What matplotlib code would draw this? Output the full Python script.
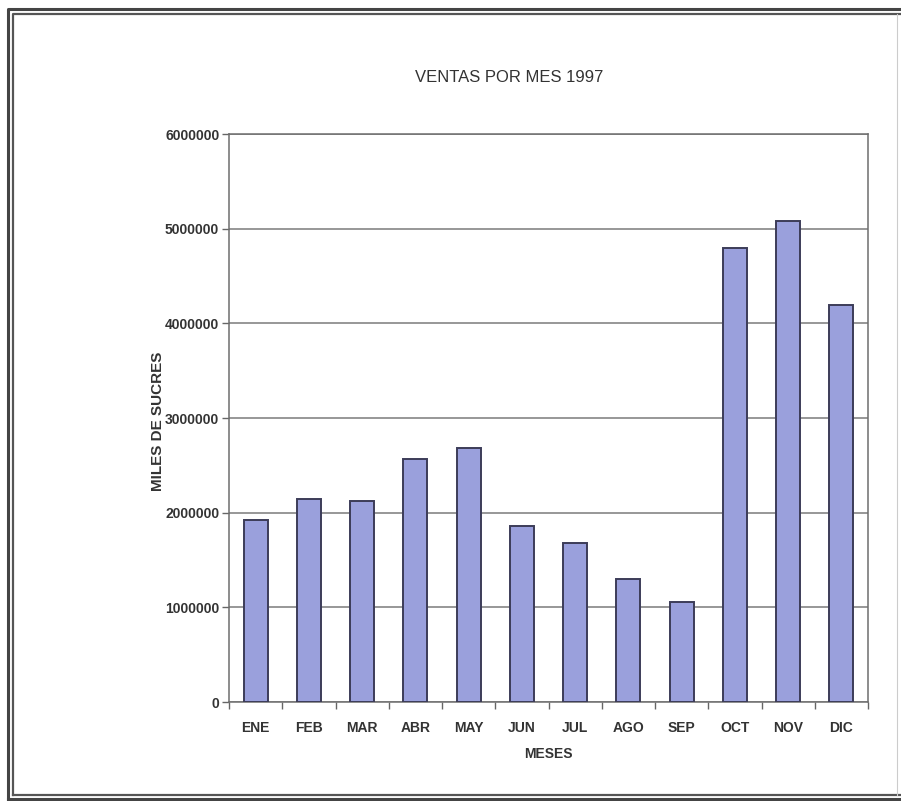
import numpy as np
import matplotlib.pyplot as plt
from matplotlib.lines import Line2D
from matplotlib.ticker import FixedLocator

plt.rcParams['font.family'] = ['Liberation Sans Narrow', 'Liberation Sans', 'DejaVu Sans']

meses = ['ENE', 'FEB', 'MAR', 'ABR', 'MAY', 'JUN',
         'JUL', 'AGO', 'SEP', 'OCT', 'NOV', 'DIC']
ventas = [1920000, 2140000, 2120000, 2570000, 2680000, 1860000,
          1680000, 1300000, 1060000, 4800000, 5080000, 4190000]
yticks = [0, 1000000, 2000000, 3000000, 4000000, 5000000, 6000000]

W, H = 901, 801
fig = plt.figure(figsize=(W / 100, H / 100), dpi=100)
ax = fig.add_axes([229 / W, 1 - 702 / H, (868 - 229) / W, (702 - 134) / H])

x = np.arange(len(meses))
ax.bar(x, ventas, width=0.45, color='#9aa0dc', edgecolor='#3c3c58',
       linewidth=1.4, zorder=3)

ax.set_xlim(-0.5, len(meses) - 0.5)
ax.set_ylim(0, 6000000)
ax.set_yticks(yticks)
ax.set_yticklabels([str(v) for v in yticks])
ax.yaxis.grid(True, color='#7a7a7a', linewidth=1.1, zorder=1)

ax.set_xticks(x)
ax.set_xticklabels(meses)
ax.xaxis.set_minor_locator(FixedLocator(np.arange(-0.5, len(meses), 1.0)))
ax.tick_params(axis='x', which='major', length=0, pad=14)
ax.tick_params(axis='x', which='minor', length=5, width=1, color='#666666',
               direction='out')
ax.tick_params(axis='y', length=5, width=1, color='#666666', pad=2)
ax.tick_params(labelsize=10, labelcolor='#333333')
for t in ax.get_xticklabels() + ax.get_yticklabels():
    t.set_fontweight('bold')

for side in ['left', 'bottom', 'right', 'top']:
    ax.spines[side].set_color('#6e6e6e')
    ax.spines[side].set_linewidth(1.1)

ax.set_xlabel('MESES', fontsize=10, fontweight='bold', color='#333333',
              labelpad=8)
ax.set_ylabel('MILES DE SUCRES', fontsize=11, fontweight='bold',
              color='#333333', labelpad=10, family=['Liberation Sans', 'DejaVu Sans'])
ax.yaxis.set_label_coords(-0.10, 0.495)

fig.text(509 / W, 1 - 77 / H, 'VENTAS POR MES 1997', ha='center', va='center',
         fontsize=12, color='#333333')

# double frame around the chart
def frame(x0, y0, x1, y1, lw, c):
    fig.add_artist(Line2D([x0 / W, x0 / W, x1 / W], [1 - y1 / H, 1 - y0 / H, 1 - y0 / H],
                          transform=fig.transFigure, color=c, linewidth=lw))
    fig.add_artist(Line2D([x0 / W, x1 / W], [1 - y1 / H, 1 - y1 / H],
                          transform=fig.transFigure, color=c, linewidth=lw))

frame(8, 9, 901, 799, 2.2, '#444444')
frame(13, 14, 901, 795, 1.6, '#555555')
fig.add_artist(Line2D([897 / W, 897 / W], [1 - 795 / H, 1 - 14 / H],
                      transform=fig.transFigure, color='#cccccc', linewidth=0.8))

fig.savefig('out.png', dpi=100)
